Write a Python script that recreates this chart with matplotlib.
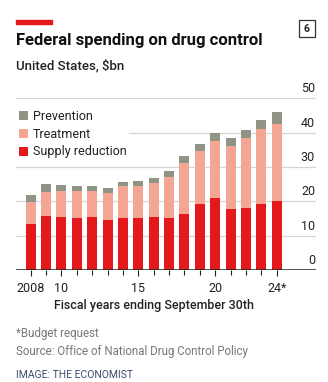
import matplotlib.pyplot as plt
from matplotlib.patches import Rectangle

# === Data ($bn) ===
years = list(range(2008, 2025))
supply = [13.3, 15.7, 15.5, 15.2, 15.3, 14.7, 15.0, 15.0, 15.5, 15.0,
          16.4, 19.1, 21.1, 17.7, 18.1, 19.3, 20.0]
treatment = [6.6, 7.1, 7.5, 7.7, 7.8, 7.8, 9.5, 9.5, 9.9, 12.2,
             14.7, 15.6, 16.5, 18.5, 20.2, 21.7, 22.6]
prevention = [1.9, 2.1, 1.7, 1.5, 1.5, 1.4, 1.2, 1.4, 1.5, 1.7,
              2.2, 2.1, 2.2, 2.2, 2.6, 2.7, 3.4]
xtick_years = [2008, 2010, 2015, 2020, 2024]
xtick_labels = ["2008", "10", "15", "20", "24*"]
yticks = [0, 10, 20, 30, 40, 50]

# === Colours ===
RED = "#e3191c"
PINK = "#f5a593"
GREY = "#8f9485"

W, H = 328, 382
plt.rcParams['font.family'] = ['Roboto', 'DejaVu Sans']
fig = plt.figure(figsize=(W / 100, H / 100), dpi=100)
ax = fig.add_axes([16 / W, 112 / H, 300 / W, 171.7 / H])

b1 = ax.bar(years, supply, width=0.65, color=RED, zorder=3, label="Supply reduction")
bottom2 = supply
b2 = ax.bar(years, treatment, width=0.65, bottom=bottom2, color=PINK, zorder=3, label="Treatment")
bottom3 = [s + t for s, t in zip(supply, treatment)]
b3 = ax.bar(years, prevention, width=0.65, bottom=bottom3, color=GREY, zorder=3, label="Prevention")

ax.set_xlim(2007.04, 2026.56)
ax.set_ylim(0, 50)

for v in yticks[1:]:
    ax.axhline(v, color="#d6d6d6", lw=0.9, zorder=1)
ax.axhline(0, color="#222222", lw=1.1, zorder=4)
for v in yticks:
    ax.text(0.997, v + 0.9, str(v), transform=ax.get_yaxis_transform(),
            ha="right", va="bottom", fontsize=9, color="#222222")

for s in ax.spines.values():
    s.set_visible(False)
ax.set_yticks([])
ax.set_xticks(years, minor=True)
ax.set_xticks(xtick_years)
ax.set_xticklabels(xtick_labels, fontsize=9, color="#222222")
ax.tick_params(axis="x", which="minor", length=3.5, width=0.8, color="#222222")
ax.tick_params(axis="x", which="major", length=4.5, width=0.8, color="#222222", pad=4.5)

leg = ax.legend(handles=[b3, b2, b1], loc="upper left",
                bbox_to_anchor=(16 / W, 1 - 107.5 / H), bbox_transform=fig.transFigure,
                frameon=True, facecolor="white", edgecolor="none", framealpha=1,
                fontsize=9, borderpad=0.2, borderaxespad=0, handlelength=0.75,
                handleheight=0.75, handletextpad=0.4, labelspacing=0.38)
leg.set_zorder(5)
for t in leg.get_texts():
    t.set_color("#222222")

# === Texts ===
fig.add_artist(Rectangle((16 / W, 1 - 23.5 / H), 36 / W, 3 / H, color=RED,
                         transform=fig.transFigure))
fig.text(16 / W, 1 - 40 / H, "Federal spending on drug control", fontsize=12,
         fontweight="bold", va="center", color="#111111")
fig.text(16 / W, 1 - 65.5 / H, "United States, $bn", fontsize=9.5,
         fontweight="medium", va="center", color="#222222")
fig.add_artist(Rectangle((298.5 / W, 1 - 37 / H), 16.5 / W, 17 / H, fill=False,
                         edgecolor="#333333", lw=0.9, transform=fig.transFigure))
fig.text(306.75 / W, 1 - 28.5 / H, "6", fontsize=7.5, fontweight="bold",
         ha="center", va="center", color="#222222")
fig.text(154 / W, 1 - 305 / H, "Fiscal years ending September 30th", fontsize=9,
         fontweight="medium", ha="center", va="center", color="#222222")
fig.text(16 / W, 1 - 333 / H, "*Budget request", fontsize=8.3,
         va="center", color="#777777")
fig.text(16 / W, 1 - 351 / H, "Source: Office of National Drug Control Policy", fontsize=8.3,
         va="center", color="#777777")
fig.text(16 / W, 1 - 375 / H, "IMAGE: THE ECONOMIST", fontsize=7.5,
         va="center", color="#3c4a6b")

fig.savefig("out.png", dpi=100)
